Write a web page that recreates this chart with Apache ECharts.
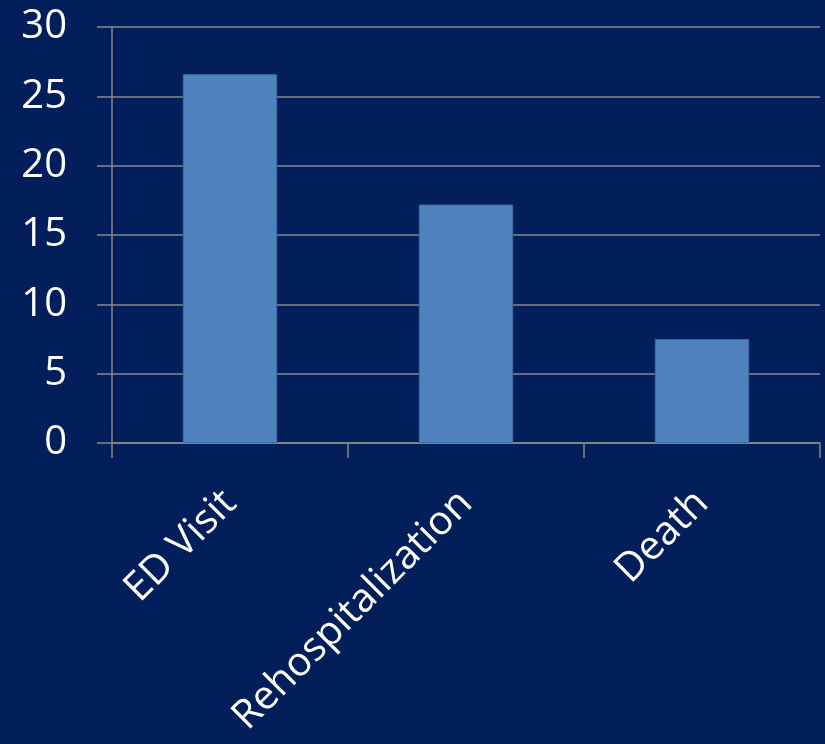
<!DOCTYPE html>
<html>
<head>
<meta charset="utf-8">
<script src="https://cdn.jsdelivr.net/npm/echarts@6/dist/echarts.min.js"></script>
<style>
html,body{margin:0;padding:0;background:#021f5b;}
#chart{width:825px;height:744px;}
</style>
</head>
<body>
<div id="chart"></div>
<script>
const categories = ["ED Visit", "Rehospitalization", "Death"];
const values = [26.6, 17.2, 7.5];
const yTicks = [0, 5, 10, 15, 20, 25, 30];

const chart = echarts.init(document.getElementById('chart'));
const lineColor = '#878787';
chart.setOption({
  backgroundColor: '#021f5b',
  animation: false,
  grid: { left: 112, right: 5, top: 27, bottom: 301, containLabel: false },
  xAxis: {
    type: 'category',
    data: categories,
    axisLine: { show: true, lineStyle: { color: lineColor, width: 1.5 } },
    axisTick: { show: true, alignWithLabel: false, length: 15, lineStyle: { color: lineColor, width: 1.5 } },
    axisLabel: { rotate: 45, color: '#ffffff', fontFamily: 'Open Sans', fontSize: 40, margin: 54, interval: 0 }
  },
  yAxis: {
    type: 'value',
    min: yTicks[0],
    max: yTicks[yTicks.length - 1],
    interval: 5,
    axisLine: { show: true, lineStyle: { color: lineColor, width: 1.5 } },
    axisTick: { show: true, length: 15, lineStyle: { color: lineColor, width: 1.5 } },
    splitLine: { show: true, lineStyle: { color: lineColor, width: 1.5 } },
    axisLabel: { color: '#ffffff', fontFamily: 'Open Sans', fontSize: 40, margin: 45 }
  },
  series: [{
    type: 'bar',
    data: values,
    barWidth: '40%',
    itemStyle: { color: '#4f81bd', borderColor: '#3f6aa2', borderWidth: 1 }
  }]
});
</script>
</body>
</html>
